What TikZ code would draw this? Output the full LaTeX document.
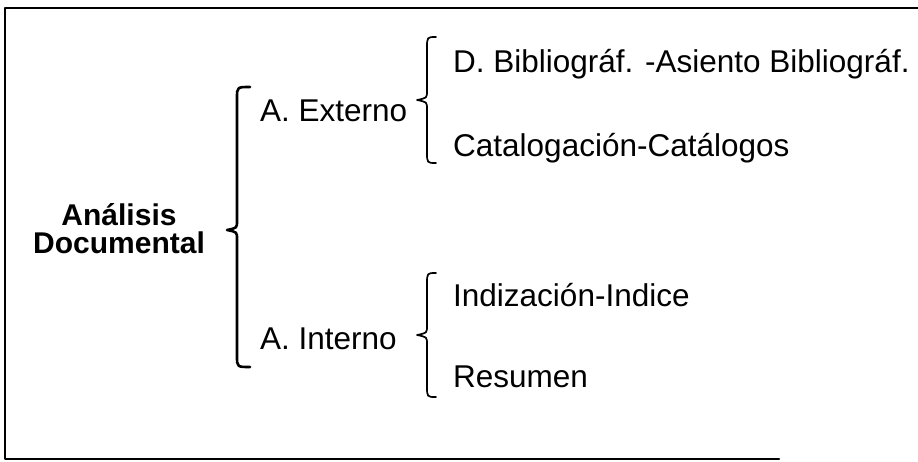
\documentclass[tikz,border=0pt]{standalone}
\usepackage{fontspec}
\setmainfont{Liberation Sans}
\tikzset{
	termText/.style={font=\fontsize{31.5}{36}\selectfont, inner sep=0pt},
	headText/.style={font=\fontsize{30}{34}\selectfont\bfseries, inner sep=0pt},
}
\newcommand{\termLabel}[5][termText]{
	\path (#2,#3) node[anchor=base west, #1](#4){#5};
}
% hook x, line x, tip x, top y, tip y, bottom y
\newcommand{\braceLeft}[7][]{
	\draw[#1] (#2,#5) .. controls (#3,#5) .. (#3,#5+11) -- (#3,#6-9)
		.. controls (#3,#6-2) .. (#4,#6) .. controls (#3,#6+2) .. (#3,#6+9)
		-- (#3,#7-11) .. controls (#3,#7) .. (#2,#7);
}

\begin{document}
\begin{tikzpicture}[x=1pt, y=-1pt, line cap=round, line join=round]
	\useasboundingbox (0,0) rectangle (918,461);
	\draw[line width=2.2pt] (779,459) -- (5,459) -- (5,8) -- (918,8);

	\termLabel[headText, anchor=base]{119}{225}{analisis}{Análisis};
	\termLabel[headText, anchor=base]{119}{253}{documental}{Documental};
	\termLabel{260}{121}{externo}{A. Externo};
	\termLabel{260}{349}{interno}{A. Interno};
	\termLabel{453}{72}{biblio}{D. Bibliográf. -Asiento Bibliográf.};
	\termLabel{453}{156}{catalog}{Catalogación-Catálogos};
	\termLabel{453}{306}{indiza}{Indización-Indice};
	\termLabel{453}{387}{resumen}{Resumen};

	\braceLeft[line width=2.6pt]{250}{237}{227}{87}{230}{367};
	\braceLeft[line width=1.7pt]{436}{427}{417}{37}{100}{163};
	\braceLeft[line width=1.7pt]{436}{427}{417}{273}{335}{397};
\end{tikzpicture}
\end{document}
